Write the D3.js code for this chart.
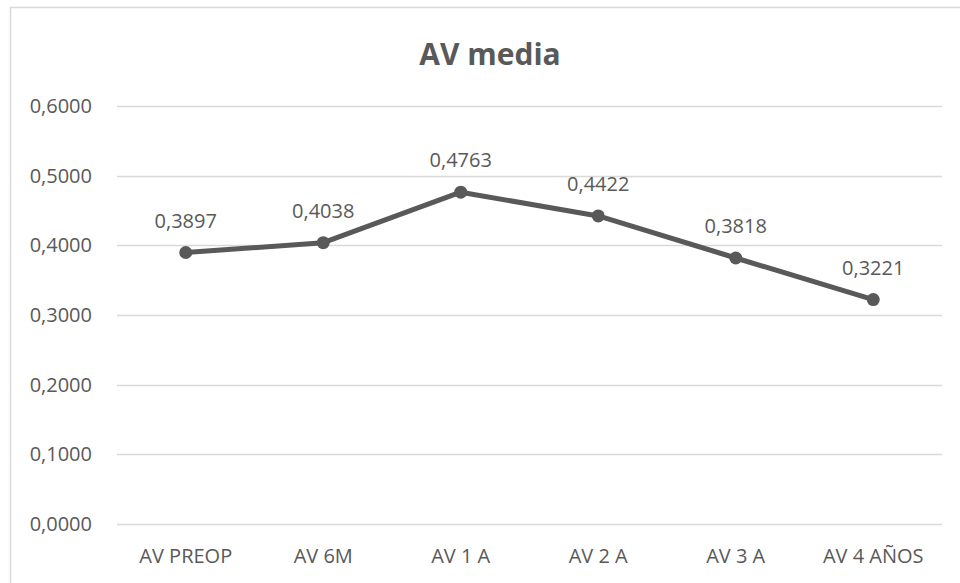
<!DOCTYPE html>
<html>
<head>
<meta charset="utf-8">
<script src="https://cdn.jsdelivr.net/npm/d3@7"></script>
<style>
  body { margin:0; background:#fff; }
  text { font-family: "Open Sans", sans-serif; fill:#595959; }
</style>
</head>
<body>
<div id="chart"></div>
<script>
var categories = ["AV PREOP", "AV 6M", "AV 1 A", "AV 2 A", "AV 3 A", "AV 4 AÑOS"];
var values = [0.3897, 0.4038, 0.4763, 0.4422, 0.3818, 0.3221];
var yTicks = [0, 0.1, 0.2, 0.3, 0.4, 0.5, 0.6];
var title = "AV media";

var W = 960, H = 583;
var margin = {t:106, l:117, r:18, b:59};
var width = W - margin.l - margin.r,
    height = H - margin.t - margin.b;

var svg = d3.select("#chart").append("svg")
    .attr("width", W).attr("height", H);

// outer frame
svg.append("rect")
    .attr("x", 10.5).attr("y", 7.5)
    .attr("width", 1000).attr("height", 1000)
    .attr("fill", "none").attr("stroke", "#d9d9d9").attr("stroke-width", 1.5);

svg.append("text")
    .attr("x", 490).attr("y", 65)
    .attr("text-anchor", "middle")
    .style("font-size", "30px").style("font-weight", "bold")
    .text(title);

var x = d3.scalePoint().domain(categories).range([0, width]).padding(0.5);
var y = d3.scaleLinear().domain([0, 0.6]).range([height, 0]);

var fmt = function(v){ return d3.format(".4f")(v).replace(".", ","); };

var g = svg.append("g").attr("transform", "translate(" + margin.l + "," + margin.t + ")");

g.selectAll(".grid").data(yTicks).enter().append("line")
    .attr("x1", 0).attr("x2", width)
    .attr("y1", function(d){ return Math.round(y(d)) + 0.5; })
    .attr("y2", function(d){ return Math.round(y(d)) + 0.5; })
    .attr("stroke", "#d9d9d9").attr("stroke-width", 1.3);

g.selectAll(".ylab").data(yTicks).enter().append("text")
    .attr("x", -25).attr("y", function(d){ return y(d); })
    .attr("dy", "0.35em").attr("text-anchor", "end")
    .style("font-size", "20px")
    .text(fmt);

g.selectAll(".xlab").data(categories).enter().append("text")
    .attr("x", function(d){ return x(d); }).attr("y", height + 39)
    .attr("text-anchor", "middle")
    .style("font-size", "20px")
    .text(function(d){ return d; });

var line = d3.line()
    .x(function(d, i){ return x(categories[i]); })
    .y(function(d){ return y(d); });

g.append("path")
    .attr("d", line(values))
    .attr("fill", "none").attr("stroke", "#595959")
    .attr("stroke-width", 5).attr("stroke-linejoin", "round");

g.selectAll(".dot").data(values).enter().append("circle")
    .attr("cx", function(d, i){ return x(categories[i]); })
    .attr("cy", function(d){ return y(d); })
    .attr("r", 6.5).attr("fill", "#595959");

g.selectAll(".lbl").data(values).enter().append("text")
    .attr("x", function(d, i){ return x(categories[i]); })
    .attr("y", function(d){ return y(d) - 25; })
    .attr("text-anchor", "middle")
    .style("font-size", "20px")
    .text(fmt);
</script>
</body>
</html>
